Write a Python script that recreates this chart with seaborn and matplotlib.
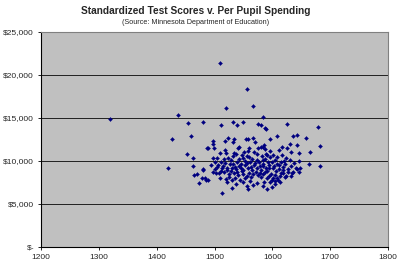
import matplotlib
matplotlib.use("Agg")
import matplotlib.pyplot as plt
import seaborn as sns
import pandas as pd
from matplotlib.ticker import FuncFormatter

# Test score (x) and per pupil spending in dollars (y)
scores = [
    1319, 1437, 1454, 1427, 1459, 1509, 1556, 1520, 1567, 1584, 1480, 1511, 1532, 1539, 1549,
    1575, 1580, 1587, 1625, 1679, 1596, 1608, 1636, 1643, 1658, 1682, 1665, 1663, 1682, 1420,
    1452, 1463, 1463, 1465, 1470, 1473, 1513, 1489, 1478, 1485, 1480,
    1497, 1497, 1487, 1499, 1518, 1523, 1532, 1534, 1542, 1554, 1558, 1567, 1570, 1580, 1586,
    1589, 1560, 1551, 1558, 1541, 1518, 1520, 1509, 1504, 1497, 1523, 1532, 1537, 1548, 1560,
    1573, 1582, 1591, 1575, 1587, 1584, 1617, 1643, 1631, 1632, 1646, 1589, 1596, 1601, 1608,
    1617, 1624, 1631, 1646, 1584,
    1501, 1511, 1518, 1528, 1532, 1539, 1546, 1553, 1561, 1568, 1577, 1584, 1592, 1504, 1513,
    1522, 1530, 1537, 1542, 1549, 1558, 1565, 1573, 1580, 1589, 1497, 1508, 1516, 1525, 1534,
    1541, 1549, 1556, 1567, 1575, 1584, 1480, 1484, 1489, 1509, 1520, 1530, 1544, 1549, 1561,
    1573, 1556, 1530, 1558,
    1599, 1608, 1615, 1622, 1632, 1641, 1648, 1584, 1594, 1601, 1611, 1618, 1627, 1636, 1587,
    1598, 1605, 1613, 1622, 1632, 1591, 1601, 1610, 1586, 1596, 1605, 1613, 1599, 1591, 1643,
    1646, 1634, 1618, 1624, 1608, 1599, 1503,
    1506, 1515, 1527, 1536, 1545, 1552, 1563, 1570, 1578, 1594, 1603, 1612, 1619, 1627, 1512,
    1521, 1529, 1539, 1547, 1560, 1571, 1579, 1590, 1606, 1615, 1525, 1536, 1552, 1563, 1580,
    1594, 1517, 1543, 1556, 1565, 1588, 1605, 1620, 1638, 1500, 1494, 1557, 1574, 1534, 1549,
    1568, 1596, 1612, 1625, 1521, 1538, 1566, 1584, 1604,
]
spending = [
    14830, 15300, 14370, 12500, 12850, 21370, 18340, 16120, 16350, 15070, 14480, 14130, 14480, 14130, 14480,
    14250, 14130, 13780, 14250, 13900, 12610, 12960, 12850, 13080, 12730, 11800, 11100, 9690, 9460, 9230,
    10860, 10400, 9460, 8410, 8530, 7480, 6310, 11560, 8060, 7830, 8990,
    12380, 12030, 11560, 11560, 12380, 12730, 12260, 12500, 11680, 12610, 12500, 12730, 12260, 11680, 11910,
    13670, 11560, 11100, 11210, 11560, 11330, 10980, 10980, 10400, 10400, 10400, 10630, 10860, 10750, 10510,
    10860, 10630, 10750, 11560, 11450, 11680, 11680, 11910, 12030, 11100, 10980, 10860, 10510, 10750, 10510,
    10750, 10400, 10160, 10040, 10160,
    9930, 9930, 9810, 10160, 9690, 9930, 9690, 10040, 9930, 9580, 9930, 9690, 9930, 9340, 9230,
    9230, 9230, 9110, 9460, 8990, 9230, 8990, 9230, 8990, 9230, 8760, 8640, 8760, 8530, 8640,
    8410, 8530, 8290, 8530, 8410, 8530, 9110, 8060, 7830, 8060, 7940, 7830, 7830, 7590, 7710,
    7480, 7120, 6890, 6770,
    9930, 9690, 9930, 9690, 9460, 9230, 9230, 9460, 9230, 9230, 9110, 8990, 8760, 8760, 8760,
    8530, 8410, 8290, 8180, 8290, 8060, 8060, 7830, 7590, 7590, 7710, 7590, 7010, 6770, 9110,
    8760, 8640, 8640, 8290, 8060, 7830, 8640,
    9580, 9460, 9690, 9340, 9230, 9580, 9340, 9810, 9460, 9580, 9460, 9580, 9340, 9110, 8880,
    8990, 8880, 8760, 8880, 8640, 8760, 8640, 8880, 8880, 8640, 8180, 8060, 8060, 8180, 8180,
    8290, 10280, 10280, 10630, 10280, 10280, 10160, 10040, 9810, 9110, 9580, 9810, 10160, 10980, 10400,
    11100, 11220, 11330, 11560, 7590, 7360, 7240, 7120, 7360,
]

x_ticks = [1200, 1300, 1400, 1500, 1600, 1700, 1800]
y_ticks = [0, 5000, 10000, 15000, 20000, 25000]

df = pd.DataFrame({"score": scores, "spending": spending})

sns.set_style("white")
plt.rcParams["font.family"] = ["Liberation Sans", "DejaVu Sans"]

fig = plt.figure(figsize=(4.0, 2.68), dpi=100)
ax = fig.add_axes([0.1025, 0.0784, 0.8675, 0.8022])
ax.set_facecolor("#C0C0C0")

for yv in y_ticks[1:-1]:
    ax.axhline(yv, color="#202020", lw=0.7, zorder=1)

sns.scatterplot(data=df, x="score", y="spending", ax=ax, marker="D", s=4.5,
                color="#000080", edgecolor="#000080", linewidth=0.2, zorder=3, legend=False)

ax.set_xlim(1200, 1800)
ax.set_ylim(0, 25000)
ax.set_xticks(x_ticks)
ax.set_yticks(y_ticks)
ax.yaxis.set_major_formatter(FuncFormatter(lambda v, p: "$-" if v == 0 else f"${int(v):,}"))
ax.tick_params(axis="both", labelsize=6, length=2, width=0.6, color="#000000", pad=3)
ax.tick_params(axis="y", left=True)
ax.tick_params(axis="x", bottom=True)
ax.set_xlabel("")
ax.set_ylabel("")
for side, sp in ax.spines.items():
    sp.set_color("#808080")
    sp.set_linewidth(0.8)
ax.spines["left"].set_color("#000000")
ax.spines["bottom"].set_color("#000000")

fig.text(0.49, 0.958, "Standardized Test Scores v. Per Pupil Spending", ha="center", va="center",
         fontsize=7.3, fontweight="bold")
fig.text(0.49, 0.915, "(Source: Minnesota Department of Education)", ha="center", va="center",
         fontsize=5.2)

fig.savefig("out.png", dpi=100)
